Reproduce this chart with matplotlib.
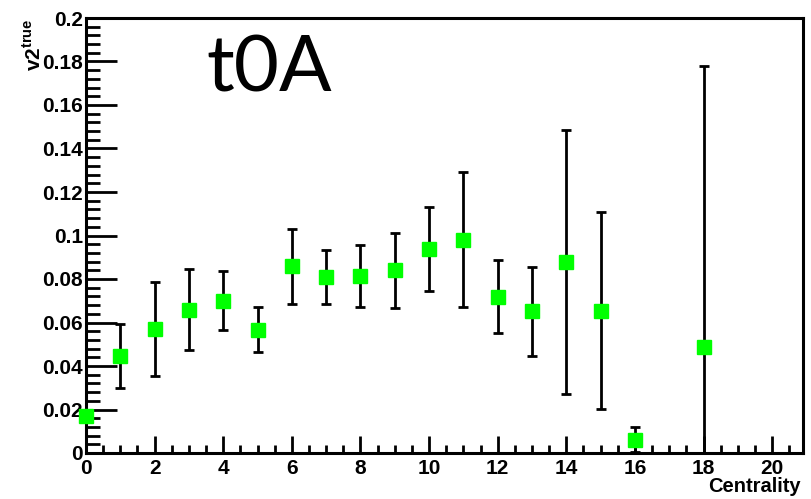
import numpy as np
import matplotlib
matplotlib.use('Agg')
import matplotlib.pyplot as plt
from matplotlib.ticker import MultipleLocator, FuncFormatter

# centrality bins and v2 values
centrality = [0, 1, 2, 3, 4, 5, 6, 7, 8, 9, 10, 11, 12, 13, 14, 15, 16, 18]
v2_true = [0.0168, 0.0447, 0.0570, 0.0659, 0.0700, 0.0567, 0.0858, 0.0809, 0.0815, 0.0840,
           0.0938, 0.0980, 0.0719, 0.0651, 0.0880, 0.0654, 0.0061, 0.0487]
v2_err = [0.0, 0.0146, 0.0216, 0.0186, 0.0136, 0.0102, 0.0172, 0.0126, 0.0142, 0.0172,
          0.0192, 0.0310, 0.0168, 0.0203, 0.0607, 0.0453, 0.0057, 0.1293]

plt.rcParams['font.family'] = ['Liberation Sans', 'DejaVu Sans']
plt.rcParams['font.weight'] = 'bold'
plt.rcParams['mathtext.fontset'] = 'custom'
plt.rcParams['mathtext.bf'] = 'Liberation Sans:bold'

fig = plt.figure(figsize=(8.11, 4.99), dpi=100)
ax = fig.add_axes([86/811, 46/499, 717/811, 435/499])

ax.errorbar(centrality, v2_true, yerr=v2_err, fmt='none', ecolor='black',
            elinewidth=2, capsize=3.5, capthick=2, zorder=2)
ax.plot(centrality, v2_true, 's', color='#00ff00', markersize=10, clip_on=False, zorder=3)

ax.set_xlim(0, 20.9)
ax.set_ylim(0, 0.2)

for s in ax.spines.values():
    s.set_linewidth(2.2)

ax.xaxis.set_major_locator(MultipleLocator(2))
ax.xaxis.set_minor_locator(MultipleLocator(0.5))
ax.yaxis.set_major_locator(MultipleLocator(0.02))
ax.yaxis.set_minor_locator(MultipleLocator(0.004))
ax.yaxis.set_major_formatter(FuncFormatter(lambda v, p: '%g' % round(v, 3)))
ax.tick_params(which='both', direction='in', width=2, top=False, right=False)
ax.tick_params(axis='x', which='major', length=12, labelsize=15, pad=4)
ax.tick_params(axis='x', which='minor', length=6)
ax.tick_params(axis='y', which='major', length=22, labelsize=15, pad=2)
ax.tick_params(axis='y', which='minor', length=10)

ax.text(0.997, -0.078, 'Centrality', transform=ax.transAxes, ha='right', va='center',
        fontsize=14.5, fontweight='bold')
ax.text(-0.073, 1.0, r'v2$^{\mathbf{true}}$', transform=ax.transAxes, rotation=90,
        ha='center', va='top', fontsize=15, fontweight='bold')

ax.text(0.255, 0.88, 't0A', transform=ax.transAxes, ha='center', va='center',
        fontsize=56, fontweight='normal', family=['Lato', 'DejaVu Sans'])

fig.savefig('out.png', dpi=100)
